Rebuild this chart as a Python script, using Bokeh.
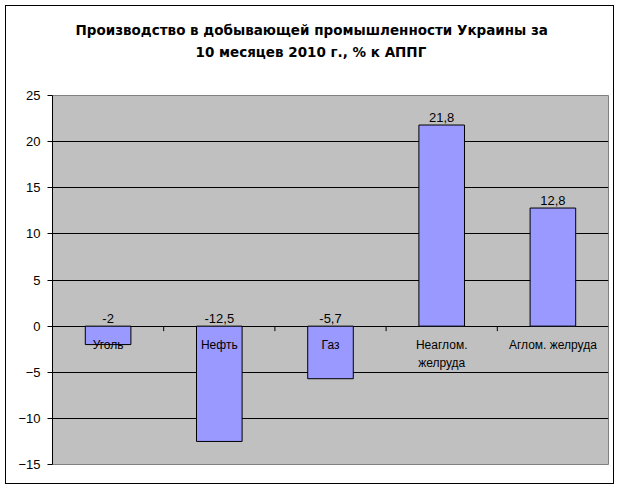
from bokeh.plotting import figure
from bokeh.models import Range1d, FixedTicker, Title, ColumnDataSource
from bokeh.core.properties import value
from bokeh.embed import file_html
from bokeh.resources import INLINE

# ---- data ----
categories = ["Уголь", "Нефть", "Газ", "Неаглом.\nжелруда", "Аглом. желруда"]
values = [-2, -12.5, -5.7, 21.8, 12.8]
value_labels = ["-2", "-12,5", "-5,7", "21,8", "12,8"]
y_ticks = [-15, -10, -5, 0, 5, 10, 15, 20, 25]
title_lines = ["Производство в добывающей промышленности Украины за",
               "10 месяцев 2010 г., % к АППГ"]

# ---- layout constants ----
W, H = 609, 479
FRAME_L, FRAME_R, FRAME_T, FRAME_B = 46, 7, 89, 21
frame_h = H - FRAME_T - FRAME_B
y_min, y_max = y_ticks[0], y_ticks[-1]
px_per_unit = frame_h / (y_max - y_min)

xs = list(range(len(categories)))
label_y = [max(v, 0) for v in values]
src = ColumnDataSource(dict(x=xs, top=values, cat=categories,
                            ly=label_y, lbl=value_labels, zero=[0] * len(xs)))

p = figure(width=W, height=H, output_backend="svg", toolbar_location=None,
           x_range=Range1d(-0.5, len(xs) - 0.5), y_range=Range1d(y_min, y_max),
           x_axis_location=None, min_border_left=FRAME_L, min_border_right=FRAME_R,
           min_border_top=FRAME_T, min_border_bottom=FRAME_B)
p.styles = {"border": "1px solid black", "margin-left": "5px", "margin-top": "5px"}
p.background_fill_color = "#C0C0C0"
p.border_fill_color = "white"
p.outline_line_color = "#808080"
p.outline_line_width = 1

p.xgrid.visible = False
p.ygrid.ticker = FixedTicker(ticks=y_ticks[1:-1])
p.ygrid.grid_line_color = "black"
p.ygrid.grid_line_width = 1

ax = p.yaxis[0]
ax.ticker = FixedTicker(ticks=y_ticks)
ax.axis_line_color = "black"
ax.major_tick_line_color = "black"
ax.major_tick_in = 0
ax.major_tick_out = 5
ax.minor_tick_line_color = None
ax.major_label_text_font = "Liberation Sans"
ax.major_label_text_font_size = "13px"
ax.major_label_text_color = "black"
ax.major_label_standoff = 7

p.vbar(x="x", top="top", bottom=0, width=0.41, source=src,
       fill_color="#9999FF", line_color="black", line_width=1)

# category tick marks along the zero line
bounds = [i + 0.5 for i in xs[:-1]]
p.segment(x0=bounds, y0=[0] * len(bounds), x1=bounds,
          y1=[-5 / px_per_unit] * len(bounds), line_color="black", line_width=1)

# category labels below zero line
p.text(x="x", y="zero", text="cat", source=src, text_align="center",
       text_baseline="top", y_offset=12, text_font=value("Liberation Sans"),
       text_font_size="12px", text_color="black", text_line_height=1.25)

# value labels
p.text(x="x", y="ly", text="lbl", source=src, text_align="center",
       text_baseline="alphabetic", y_offset=-8, text_font=value("Liberation Sans"),
       text_font_size="13px", text_color="black")

# title: a thin spacer nearest the plot, then line 2, then line 1 on top
p.add_layout(Title(text=" ", text_font_size="1px", standoff=31), "above")
title_offsets = [23, 143]
for i in reversed(range(len(title_lines))):
    p.add_layout(Title(text=title_lines[i], align="left", offset=title_offsets[i],
                       text_font="DejaVu Sans", text_font_style="bold",
                       text_font_size="13.5px", text_color="black", standoff=4),
                 "above")

open("out.html", "w").write(file_html(p, INLINE))
